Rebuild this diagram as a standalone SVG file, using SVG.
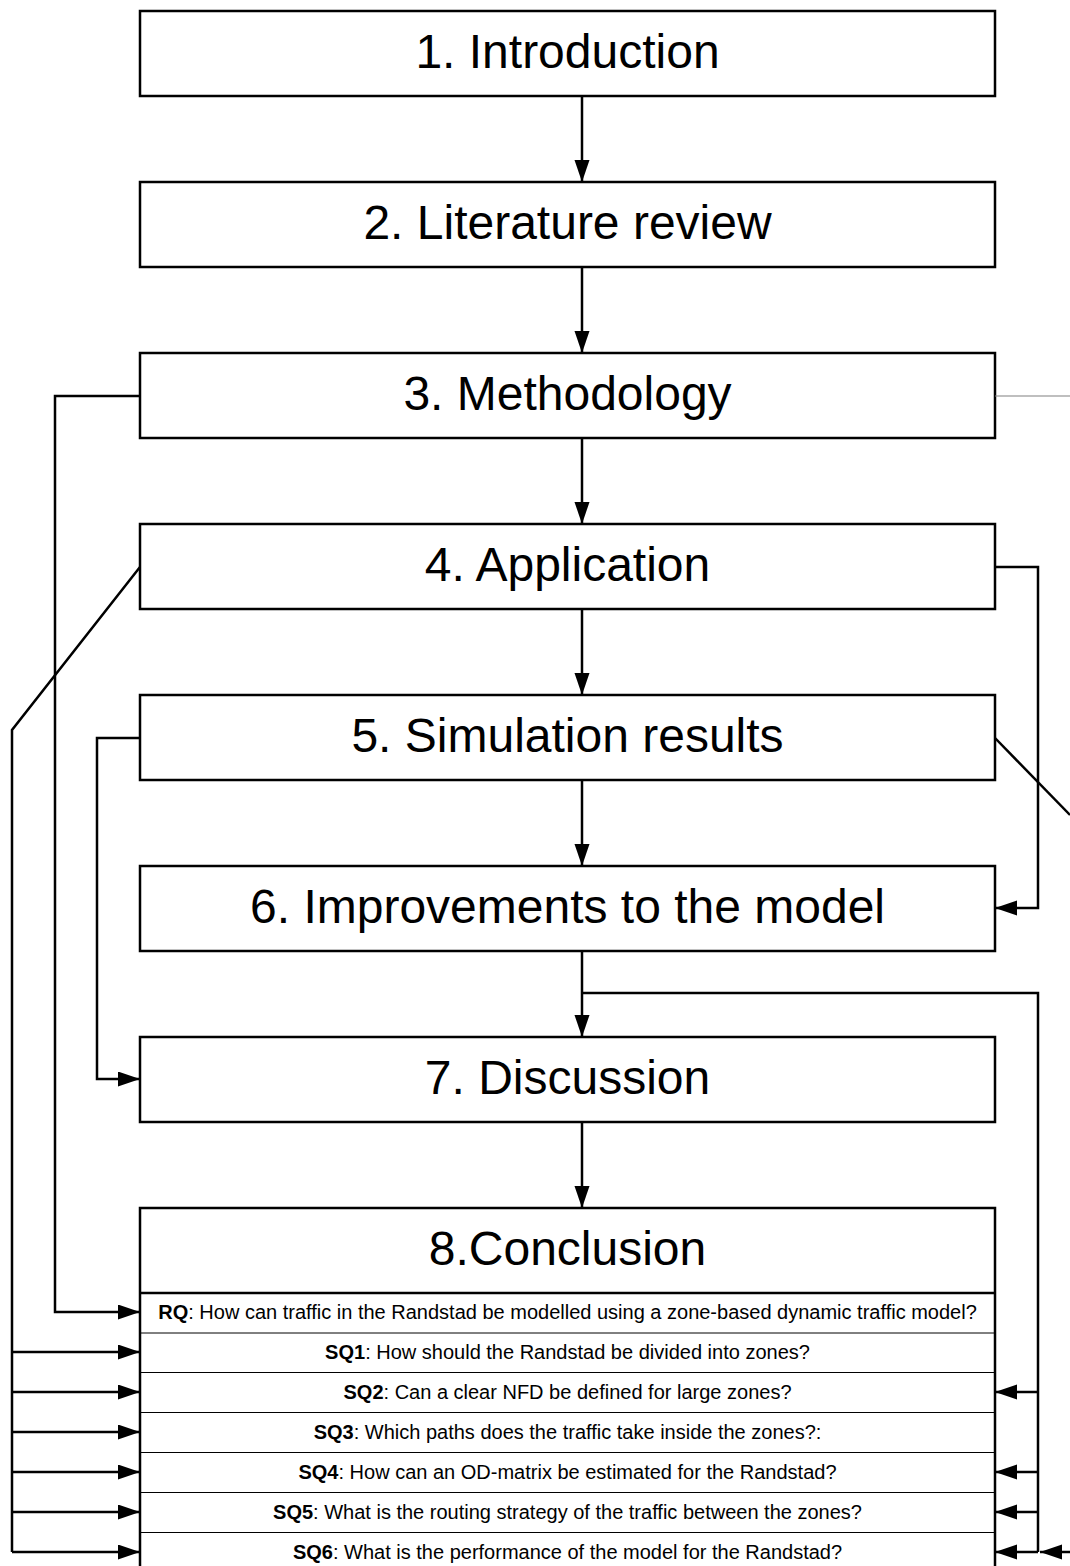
<svg xmlns="http://www.w3.org/2000/svg" width="1070" height="1566" viewBox="0 0 1070 1566">
<style>
.box{fill:#fff;stroke:#000;stroke-width:2.5}
.t{font-family:"Liberation Sans",Arial,sans-serif;font-size:48px;text-anchor:middle;fill:#000}
.r{font-family:"Liberation Sans",Arial,sans-serif;font-size:20px;text-anchor:middle;fill:#000}
.r tspan.b{font-weight:bold}
.c{fill:none;stroke:#000;stroke-width:2.5}
.sep{stroke:#000;stroke-width:1}
</style>
<defs>
<marker id="ah" markerUnits="userSpaceOnUse" markerWidth="24" markerHeight="16" refX="22" refY="7.5" orient="auto">
<path d="M0,0 L22,7.5 L0,15 z" fill="#000"/>
</marker>
</defs>
<rect width="1070" height="1566" fill="#fff"/>
<g id="n1"><rect class="box" x="140" y="11" width="855" height="85"/><text class="t" x="567.5" y="68">1. Introduction</text></g>
<g id="n2"><rect class="box" x="140" y="182" width="855" height="85"/><text class="t" x="567.5" y="239">2. Literature review</text></g>
<g id="n3"><rect class="box" x="140" y="353" width="855" height="85"/><text class="t" x="567.5" y="410">3. Methodology</text></g>
<g id="n4"><rect class="box" x="140" y="524" width="855" height="85"/><text class="t" x="567.5" y="581">4. Application</text></g>
<g id="n5"><rect class="box" x="140" y="695" width="855" height="85"/><text class="t" x="567.5" y="752">5. Simulation results</text></g>
<g id="n6"><rect class="box" x="140" y="866" width="855" height="85"/><text class="t" x="567.5" y="923">6. Improvements to the model</text></g>
<g id="n7"><rect class="box" x="140" y="1037" width="855" height="85"/><text class="t" x="567.5" y="1094">7. Discussion</text></g>
<g id="n8">
<rect class="box" x="140" y="1208" width="855" height="380"/>
<line x1="140" y1="1293" x2="995" y2="1293" stroke="#000" stroke-width="2.5"/>
<text class="t" x="567.5" y="1265">8.Conclusion</text>
<line class="sep" x1="140" y1="1333" x2="995" y2="1333"/>
<line class="sep" x1="140" y1="1372.5" x2="995" y2="1372.5"/>
<line class="sep" x1="140" y1="1412.5" x2="995" y2="1412.5"/>
<line class="sep" x1="140" y1="1452.5" x2="995" y2="1452.5"/>
<line class="sep" x1="140" y1="1492.5" x2="995" y2="1492.5"/>
<line class="sep" x1="140" y1="1532.5" x2="995" y2="1532.5"/>
<text class="r" x="567.5" y="1319"><tspan class="b">RQ</tspan>: How can traffic in the Randstad be modelled using a zone-based dynamic traffic model?</text>
<text class="r" x="567.5" y="1359"><tspan class="b">SQ1</tspan>: How should the Randstad be divided into zones?</text>
<text class="r" x="567.5" y="1399"><tspan class="b">SQ2</tspan>: Can a clear NFD be defined for large zones?</text>
<text class="r" x="567.5" y="1439"><tspan class="b">SQ3</tspan>: Which paths does the traffic take inside the zones?:</text>
<text class="r" x="567.5" y="1479"><tspan class="b">SQ4</tspan>: How can an OD-matrix be estimated for the Randstad?</text>
<text class="r" x="567.5" y="1519"><tspan class="b">SQ5</tspan>: What is the routing strategy of the traffic between the zones?</text>
<text class="r" x="567.5" y="1559"><tspan class="b">SQ6</tspan>: What is the performance of the model for the Randstad?</text>
</g>
<g id="connectors">
<line class="c" x1="582" y1="96" x2="582" y2="182" marker-end="url(#ah)"/>
<line class="c" x1="582" y1="267" x2="582" y2="353" marker-end="url(#ah)"/>
<line class="c" x1="582" y1="438" x2="582" y2="524" marker-end="url(#ah)"/>
<line class="c" x1="582" y1="609" x2="582" y2="695" marker-end="url(#ah)"/>
<line class="c" x1="582" y1="780" x2="582" y2="866" marker-end="url(#ah)"/>
<line class="c" x1="582" y1="951" x2="582" y2="1037" marker-end="url(#ah)"/>
<line class="c" x1="582" y1="1122" x2="582" y2="1208" marker-end="url(#ah)"/>
<polyline class="c" points="140,396 55,396 55,1312 140,1312" marker-end="url(#ah)"/>
<line x1="995" y1="396" x2="1070" y2="396" stroke="#808080" stroke-width="1.2"/>
<polyline class="c" points="140,567 12,730 12,1552"/>
<line class="c" x1="12" y1="1352" x2="140" y2="1352" marker-end="url(#ah)"/>
<line class="c" x1="12" y1="1392" x2="140" y2="1392" marker-end="url(#ah)"/>
<line class="c" x1="12" y1="1432" x2="140" y2="1432" marker-end="url(#ah)"/>
<line class="c" x1="12" y1="1472" x2="140" y2="1472" marker-end="url(#ah)"/>
<line class="c" x1="12" y1="1512" x2="140" y2="1512" marker-end="url(#ah)"/>
<line class="c" x1="12" y1="1552" x2="140" y2="1552" marker-end="url(#ah)"/>
<polyline class="c" points="995,567 1038,567 1038,908 995,908" marker-end="url(#ah)"/>
<polyline class="c" points="140,738 97,738 97,1079 140,1079" marker-end="url(#ah)"/>
<line class="c" x1="995" y1="738" x2="1070" y2="815"/>
<polyline class="c" points="582,993 1038,993 1038,1552"/>
<line class="c" x1="1038" y1="1392" x2="995" y2="1392" marker-end="url(#ah)"/>
<line class="c" x1="1038" y1="1472" x2="995" y2="1472" marker-end="url(#ah)"/>
<line class="c" x1="1038" y1="1512" x2="995" y2="1512" marker-end="url(#ah)"/>
<line class="c" x1="1038" y1="1552" x2="995" y2="1552" marker-end="url(#ah)"/>
<line class="c" x1="1070" y1="1552" x2="1040" y2="1552" marker-end="url(#ah)"/>
</g>
</svg>
